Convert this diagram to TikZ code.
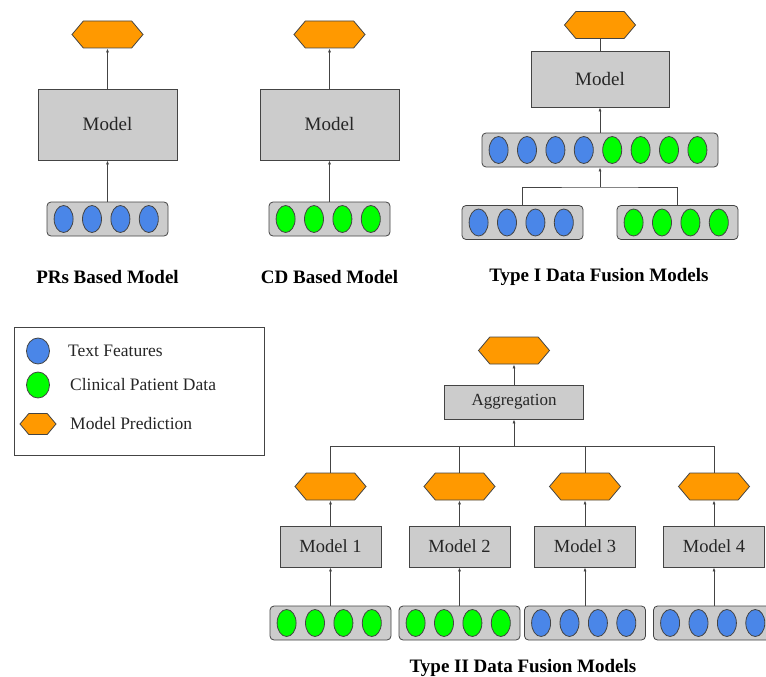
\documentclass[tikz,border=0pt]{standalone}
\usepackage{fontspec}
\setmainfont{Liberation Serif}
\usetikzlibrary{shapes.geometric, shapes.symbols, arrows.meta, calc}

\definecolor{featblue}{HTML}{4A86E8}
\definecolor{featgreen}{HTML}{00FF00}
\definecolor{predorange}{HTML}{FF9900}
\definecolor{boxgray}{HTML}{CCCCCC}
\definecolor{linegray}{HTML}{444444}
\definecolor{textgray}{HTML}{262626}

% a row of feature ellipses inside a bar node
\newcommand{\featrow}[2]{%
    \foreach \c [count=\i from 0] in {#2}
        \node[feat, fill=\c] at ($(#1.west)+(17+28.4*\i,0)$) {};%
}

\begin{document}
\begin{tikzpicture} [
    x=1pt, y=-1pt,
    feat/.style = {ellipse, draw=linegray, line width=0.8pt, minimum width=19pt, minimum height=27pt, inner sep=0pt},
    featbar/.style = {rectangle, rounded corners=4pt, draw=linegray, line width=0.8pt, fill=boxgray, minimum width=121pt, minimum height=34pt},
    pred/.style = {signal, signal to=east and west, signal pointer angle=100, draw=linegray, line width=0.8pt, fill=predorange, minimum width=71pt, minimum height=27pt, inner sep=0pt},
    model/.style = {rectangle, draw=linegray, line width=0.8pt, fill=boxgray, text=textgray, font=\fontsize{19}{22}\selectfont},
    title/.style = {font=\bfseries\fontsize{19}{22}\selectfont},
    legendtext/.style = {anchor=west, inner sep=0pt, text=textgray, font=\fontsize{17.5}{20}\selectfont},
    arr/.style = {-{Latex[length=4pt,width=3pt]}, draw=linegray, line width=0.7pt}
]
    \useasboundingbox (0,0) rectangle (766,677);
    \clip (0,0) rectangle (766,677);

    % PRs based model
    \node[pred] (pprs) at (107.5,34.5) {};
    \node[model, minimum width=139pt, minimum height=71pt] (mprs) at (107.5,124.5) {Model};
    \node[featbar] (bprs) at (107.5,219) {};
    \featrow{bprs}{featblue,featblue,featblue,featblue}
    \draw[arr] (bprs.north) -- (mprs.south);
    \draw[arr] (mprs.north) -- (pprs.south);
    \node[title] (tprs) at (107.5,277) {PRs Based Model};

    % CD based model
    \node[pred] (pcd) at (329.5,34.5) {};
    \node[model, minimum width=139pt, minimum height=71pt] (mcd) at (329.5,124.5) {Model};
    \node[featbar] (bcd) at (329.5,219) {};
    \featrow{bcd}{featgreen,featgreen,featgreen,featgreen}
    \draw[arr] (bcd.north) -- (mcd.south);
    \draw[arr] (mcd.north) -- (pcd.south);
    \node[title] (tcd) at (329.5,277) {CD Based Model};

    % Type I
    \node[pred] (pone) at (600,25) {};
    \node[model, minimum width=138pt, minimum height=56pt] (mone) at (600,79) {Model};
    \node[featbar, minimum width=236pt] (bcat) at (600,150) {};
    \featrow{bcat}{featblue,featblue,featblue,featblue,featgreen,featgreen,featgreen,featgreen}
    \node[featbar] (bleft) at (522.5,222.5) {};
    \featrow{bleft}{featblue,featblue,featblue,featblue}
    \node[featbar] (bright) at (677.5,222.5) {};
    \featrow{bright}{featgreen,featgreen,featgreen,featgreen}
    \coordinate (join) at (600,187);
    \draw[linegray, line width=0.7pt] (bleft.north) |- (join) -| (bright.north);
    \draw[arr] (join) -- (bcat.south);
    \draw[arr] (bcat.north) -- (mone.south);
    \draw[linegray, line width=0.7pt] (mone.north) -- (pone.south);
    \node[title] (tone) at (599,277) {Type I Data Fusion Models};

    % legend
    \node[rectangle, draw=linegray, line width=0.8pt, minimum width=250pt, minimum height=128pt] (legend) at (139,391) {};
    \node[feat, fill=featblue, minimum width=23pt, minimum height=26pt] (lblue) at (38,351) {};
    \node[legendtext] (ltext) at (68,351) {Text Features};
    \node[feat, fill=featgreen, minimum width=23pt, minimum height=26pt] (lgreen) at (38,385) {};
    \node[legendtext] (lclin) at (70,385) {Clinical Patient Data};
    \node[pred, minimum width=36pt, minimum height=21pt] (lpred) at (38,424) {};
    \node[legendtext] (lpredtext) at (70,424) {Model Prediction};

    % Type II
    \node[pred] (pagg) at (514,350.5) {};
    \node[model, minimum width=139pt, minimum height=34pt, font=\fontsize{17}{20}\selectfont] (agg) at (514,402) {Aggregation};
    \draw[arr] (agg.north) -- (pagg.south);
    \coordinate (bus) at (514,446);
    \draw[arr] (bus) -- (agg.south);
    \foreach \x/\n/\cl in {330.5/1/featgreen, 459.5/2/featgreen, 585/3/featblue, 714/4/featblue} {
        \node[pred] (p\n) at (\x,486.5) {};
        \node[model, minimum width=101pt, minimum height=41pt, font=\fontsize{18.5}{21}\selectfont] (m\n) at (\x,546.5) {Model \n};
        \node[featbar] (b\n) at (\x,623) {};
        \featrow{b\n}{\cl,\cl,\cl,\cl}
        \draw[arr] (b\n.north) -- (m\n.south);
        \draw[arr] (m\n.north) -- (p\n.south);
        \draw[linegray, line width=0.7pt] (p\n.north) -- (p\n.north |- bus);
    }
    \draw[linegray, line width=0.7pt] (p1.north |- bus) -- (p4.north |- bus);
    \node[title] (ttwo) at (523,668) {Type II Data Fusion Models};
\end{tikzpicture}
\end{document}
